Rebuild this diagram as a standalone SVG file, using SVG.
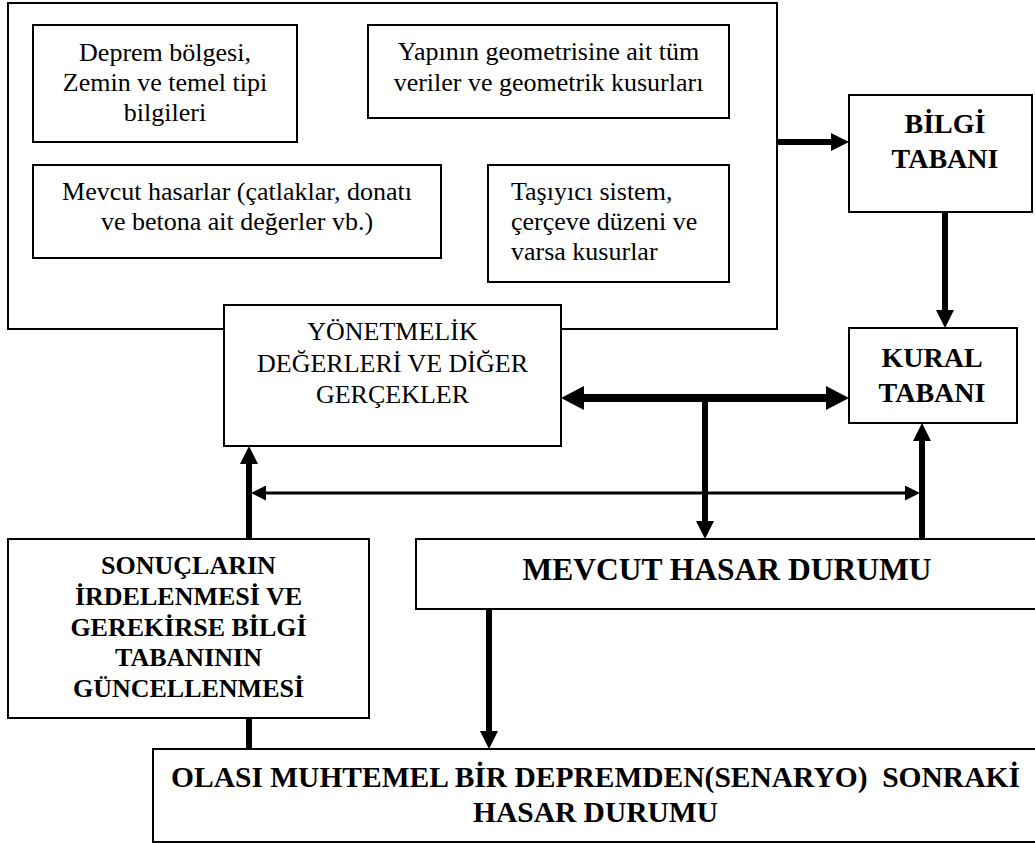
<svg xmlns="http://www.w3.org/2000/svg" width="1035" height="843" viewBox="0 0 1035 843">
<style>
.box{fill:#fff;stroke:#000;stroke-width:2}
.t{font-family:'Liberation Serif','Times New Roman',serif;font-size:26px;fill:#000}
.c{text-anchor:middle}
.b{font-weight:bold}
.thick{stroke:#000;stroke-width:6;fill:none}
.xthick{stroke:#000;stroke-width:8;fill:none}
.thin{stroke:#000;stroke-width:3;fill:none}
</style>
<defs>
<marker id="ah" markerUnits="userSpaceOnUse" markerWidth="18" markerHeight="18" refX="0" refY="9" orient="auto-start-reverse" viewBox="0 0 18 18"><path d="M0,0 L18,9 L0,18 z" fill="#000"/></marker>
<marker id="ahL" markerUnits="userSpaceOnUse" markerWidth="23" markerHeight="24" refX="0" refY="12" orient="auto-start-reverse" viewBox="0 0 23 24"><path d="M0,0 L23,12 L0,24 z" fill="#000"/></marker>
<marker id="ahS" markerUnits="userSpaceOnUse" markerWidth="15" markerHeight="15" refX="0" refY="7.5" orient="auto-start-reverse" viewBox="0 0 15 15"><path d="M0,0 L15,7.5 L0,15 z" fill="#000"/></marker>
</defs>
<rect x="0" y="0" width="1035" height="843" fill="#fff"/>

<g id="input-group">
<rect class="box" x="8" y="3" width="769" height="326"/>
</g>

<g id="connectors">
<line class="thick" x1="778" y1="142" x2="831" y2="142" marker-end="url(#ah)"/>
<line class="thick" x1="945" y1="212" x2="945" y2="310" marker-end="url(#ah)"/>
<line class="xthick" x1="584" y1="398" x2="826" y2="398" marker-start="url(#ahL)" marker-end="url(#ahL)"/>
<line class="thick" x1="705" y1="398" x2="705" y2="521" marker-end="url(#ah)"/>
<line class="thick" x1="922" y1="539" x2="922" y2="441" marker-end="url(#ah)"/>
<line class="thick" x1="249" y1="749" x2="249" y2="464" marker-end="url(#ah)"/>
<line class="thin" x1="266" y1="493" x2="905" y2="493" marker-start="url(#ahS)" marker-end="url(#ahS)"/>
<line class="thick" x1="489" y1="609" x2="489" y2="731" marker-end="url(#ah)"/>
</g>

<g id="deprem">
<rect class="box" x="33" y="25" width="264" height="117"/>
<text class="t c" x="165" y="61">Deprem bölgesi,</text>
<text class="t c" x="165" y="91">Zemin ve temel tipi</text>
<text class="t c" x="165" y="121">bilgileri</text>
</g>

<g id="geometri">
<rect class="box" x="368" y="25" width="361" height="93"/>
<text class="t c" x="548.5" y="60">Yapının geometrisine ait tüm</text>
<text class="t c" x="548.5" y="91">veriler ve geometrik kusurları</text>
</g>

<g id="hasarlar">
<rect class="box" x="33" y="165" width="408" height="93"/>
<text class="t c" x="237" y="200">Mevcut hasarlar (çatlaklar, donatı</text>
<text class="t c" x="237" y="230">ve betona ait değerler vb.)</text>
</g>

<g id="tasiyici">
<rect class="box" x="488" y="165" width="241" height="117"/>
<text class="t" x="511" y="200">Taşıyıcı sistem,</text>
<text class="t" x="511" y="230">çerçeve düzeni ve</text>
<text class="t" x="511" y="260">varsa kusurlar</text>
</g>

<g id="bilgi-tabani">
<rect class="box" x="849" y="95" width="183" height="117"/>
<text class="t c b" x="945" y="133" style="font-size:28px">BİLGİ</text>
<text class="t c b" x="945" y="168" style="font-size:28px">TABANI</text>
</g>

<g id="kural-tabani">
<rect class="box" x="849" y="328" width="168" height="95"/>
<text class="t c b" x="932" y="367" style="font-size:28px">KURAL</text>
<text class="t c b" x="932" y="402" style="font-size:28px">TABANI</text>
</g>

<g id="yonetmelik">
<rect class="box" x="224" y="305" width="337" height="141"/>
<text class="t c" x="392.5" y="340">YÖNETMELİK</text>
<text class="t c" x="392.5" y="372">DEĞERLERİ VE DİĞER</text>
<text class="t c" x="392.5" y="403">GERÇEKLER</text>
</g>

<g id="sonuclar">
<rect class="box" x="8" y="539" width="361" height="179"/>
<text class="t c b" x="188.5" y="574">SONUÇLARIN</text>
<text class="t c b" x="188.5" y="605">İRDELENMESİ VE</text>
<text class="t c b" x="188.5" y="636">GEREKİRSE BİLGİ</text>
<text class="t c b" x="188.5" y="666">TABANININ</text>
<text class="t c b" x="188.5" y="697">GÜNCELLENMESİ</text>
</g>

<g id="mevcut-hasar">
<rect class="box" x="416" y="539" width="630" height="70"/>
<text class="t c b" x="727" y="580" style="font-size:31.5px">MEVCUT HASAR DURUMU</text>
</g>

<g id="olasi">
<rect class="box" x="153" y="749" width="893" height="93"/>
<text class="t c b" x="595.5" y="787" style="font-size:29.5px">OLASI MUHTEMEL BİR DEPREMDEN(SENARYO)&#160; SONRAKİ</text>
<text class="t c b" x="595.5" y="822" style="font-size:29.5px">HASAR DURUMU</text>
</g>
</svg>
